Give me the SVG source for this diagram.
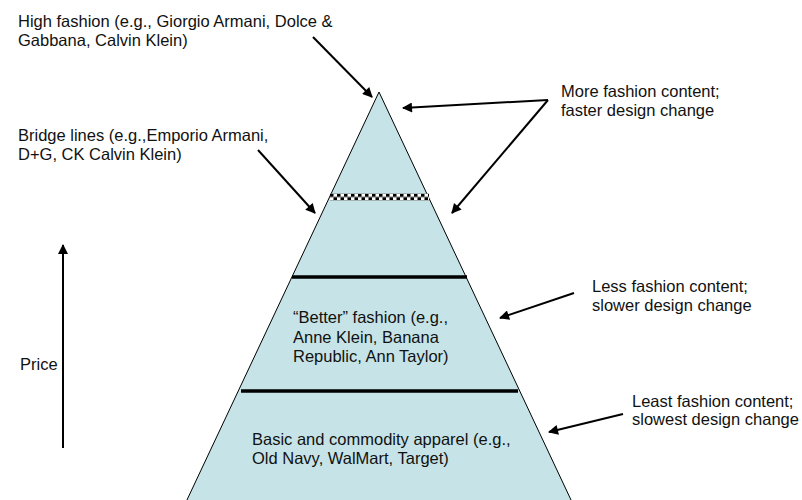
<svg xmlns="http://www.w3.org/2000/svg" width="802" height="500" viewBox="0 0 802 500">
<style>
  text { font-family: "Liberation Sans", Arial, sans-serif; font-size: 16.5px; fill: #111; }
  .arrow { stroke: #000; stroke-width: 2; fill: none; marker-end: url(#ah); }
  .tier { stroke: #000; stroke-width: 3.5; }
</style>
<defs>
  <marker id="ah" viewBox="0 0 10 10" refX="9" refY="5" markerWidth="12" markerHeight="10" markerUnits="userSpaceOnUse" orient="auto">
    <path d="M0,0 L10,5 L0,10 z" fill="#000"/>
  </marker>
  <pattern id="check" x="330" y="193.5" width="7" height="7" patternUnits="userSpaceOnUse">
    <rect width="7" height="7" fill="#fff"/>
    <rect x="0" y="0" width="3.5" height="3.5" fill="#000"/>
    <rect x="3.5" y="3.5" width="3.5" height="3.5" fill="#000"/>
  </pattern>
</defs>
<rect width="802" height="500" fill="#fff"/>

<g id="pyramid">
  <polygon points="379,92 186,502 572,502" fill="#C6E4E7" stroke="#000" stroke-width="1"/>
  <rect x="330" y="193.5" width="99" height="7" fill="url(#check)"/>
  <line class="tier" x1="292" y1="277" x2="467" y2="277"/>
  <line class="tier" x1="241" y1="391" x2="518" y2="391"/>
</g>

<g id="tier-better">
  <text x="293" y="323">“Better” fashion (e.g.,</text>
  <text x="293" y="343">Anne Klein, Banana</text>
  <text x="293" y="362">Republic, Ann Taylor)</text>
</g>
<g id="tier-basic">
  <text x="252" y="445">Basic and commodity apparel (e.g.,</text>
  <text x="252" y="464">Old Navy, WalMart, Target)</text>
</g>

<g id="label-high">
  <text x="18" y="27">High fashion (e.g., Giorgio Armani, Dolce &amp;</text>
  <text x="18" y="46">Gabbana, Calvin Klein)</text>
</g>
<g id="label-bridge">
  <text x="18" y="141">Bridge lines (e.g.,Emporio Armani,</text>
  <text x="18" y="160">D+G, CK Calvin Klein)</text>
</g>
<g id="label-more">
  <text x="561" y="97">More fashion content;</text>
  <text x="561" y="116">faster design change</text>
</g>
<g id="label-less">
  <text x="592" y="292">Less fashion content;</text>
  <text x="592" y="311">slower design change</text>
</g>
<g id="label-least">
  <text x="632" y="407">Least fashion content;</text>
  <text x="632" y="425">slowest design change</text>
</g>
<g id="label-price">
  <text x="20" y="370">Price</text>
</g>

<g id="connectors">
  <line class="arrow" x1="313" y1="37" x2="372" y2="97"/>
  <line class="arrow" x1="548" y1="100" x2="403" y2="108"/>
  <line class="arrow" x1="548" y1="100" x2="452" y2="213"/>
  <line class="arrow" x1="258" y1="150" x2="315" y2="213"/>
  <line class="arrow" x1="574" y1="293" x2="500" y2="318"/>
  <line class="arrow" x1="623" y1="414" x2="549" y2="432"/>
  <line class="arrow" x1="63" y1="448" x2="63" y2="245"/>
</g>
</svg>
